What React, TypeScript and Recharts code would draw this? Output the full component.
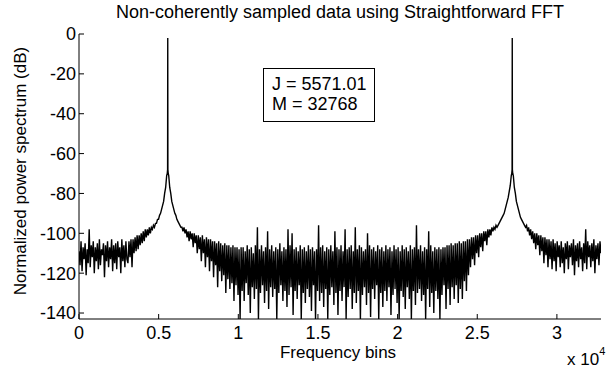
import { Line, LineChart, XAxis, YAxis } from 'recharts';

// spectrum, one value every STEP bins
const STEP = 64;

// bins 0 .. 5504
const leftStart = 0;
const leftDb = [
  -109, -116, -104, -119, -107, -113, -105, -121, -108, -115, -98, -117, -106, -112, -104, -120,
  -107, -114, -105, -118, -103, -116, -108, -111, -105, -122, -106, -114, -104, -117, -107, -113,
  -103, -119, -106, -115, -105, -118, -104, -112, -107, -120, -103, -114, -106, -117, -104, -113,
  -115, -104, -112, -103, -117, -103, -110, -102, -109, -101, -108, -101, -106, -100, -105, -99,
  -104, -98, -102, -98, -101, -97, -100, -97, -98, -96, -97, -95, -95, -93, -93, -91,
  -90, -88, -86, -84, -80, -77, -71,
];

// close-in bins around the first tone
const peakLeftBins = [5540, 5562, 5571, 5580, 5602];
const peakLeftDb = [-70, -68, -2, -68, -70];

// bins 5632 .. 27136
const midStart = 5632;
const midDb = [
  -71, -77, -80, -84, -86, -88, -90, -91, -93, -94, -95, -96, -97, -97, -99, -97,
  -100, -98, -102, -99, -104, -99, -103, -100, -107, -100, -105, -101, -110, -101, -108, -102,
  -114, -101, -110, -103, -117, -102, -112, -103, -119, -103, -114, -104, -122, -104, -116, -105,
  -127, -104, -119, -105, -124, -106, -121, -105, -130, -106, -123, -106, -128, -107, -125, -106,
  -134, -107, -126, -107, -131, -108, -143, -107,
  -129, -107, -134, -109, -125, -106, -131, -108, -140, -107, -127, -110, -133, -106, -128, -97,
  -143, -108, -130, -106, -126, -109, -135, -107, -129, -99, -138, -108, -127, -106, -132, -109,
  -128, -107, -143, -108, -130, -105, -126, -109, -134, -107, -129, -108, -137, -98, -131, -106,
  -127, -100, -141, -108, -129, -107, -133, -109, -126, -106, -143, -108, -130, -107, -135, -109,
  -128, -106, -132, -108, -139, -107, -126, -109, -143, -108, -129, -96, -134, -107, -130, -106,
  -137, -109, -128, -107, -143, -108, -131, -106, -127, -109, -136, -99, -130, -107, -141, -108,
  -129, -106, -134, -109, -127, -98, -143, -108, -132, -107, -128, -106, -138, -109, -130, -97,
  -135, -108, -129, -106, -143, -107, -131, -109, -127, -108, -136, -100, -130, -106, -142, -108,
  -128, -107, -133, -109, -126, -106, -143, -108, -130, -107, -137, -109, -129, -106, -134, -108,
  -127, -107, -141, -109, -131, -106, -128, -108, -135, -107, -143, -109, -129, -106, -132, -108,
  -138, -107, -127, -109, -133, -106, -143, -108, -129, -107, -136, -96, -130, -108, -128, -106,
  -134, -109, -131, -107, -143, -108, -128, -99, -137, -106, -130, -109, -140, -107, -129, -108,
  -133,
  -107, -143, -108, -131, -107, -126, -107, -138, -106, -128, -106, -136, -105, -127, -106, -133,
  -105, -126, -105, -135, -104, -128, -105, -133, -104, -124, -104, -129, -103, -121, -103, -117,
  -102, -113, -102, -116, -101, -110, -101, -112, -100, -107, -100, -109, -99, -104, -99, -106,
  -98, -102, -98, -101, -97, -99, -97, -98, -96, -97, -96, -95, -94, -93, -92, -91,
  -90, -88, -86, -84, -82, -79, -76, -71,
];

// close-in bins around the image tone
const peakRightBins = [27166, 27188, 27197, 27206, 27228];
const peakRightDb = [-70, -68, -2, -68, -70];

// bins 27264 .. 32768
const rightStart = 27264;
const rightDb = [
  -71, -77, -80, -84, -86, -88, -90, -92, -93, -94, -95, -96, -97, -96, -99, -97,
  -101, -98, -103, -99, -105, -100, -108, -100, -106, -101, -111, -101, -109, -102, -115, -102,
  -111, -103, -117, -103, -113, -104, -118, -103,
  -114, -105, -119, -104, -112, -106, -117, -104, -115, -107, -120, -105, -113, -104, -118, -106,
  -112, -105, -116, -103, -121, -106, -114, -105, -117, -104, -113, -107, -119, -105, -115, -98,
  -118, -104, -112, -106, -117, -105, -114, -103, -120, -106, -113, -105, -116, -104, -110,
];

const xTicks = [0, 5000, 10000, 15000, 20000, 25000, 30000];
const yTicks = [0, -20, -40, -60, -80, -100, -120, -140];

const data = [
  ...leftDb.map((db, i) => ({ bin: leftStart + i * STEP, db })),
  ...peakLeftBins.map((bin, i) => ({ bin, db: peakLeftDb[i] })),
  ...midDb.map((db, i) => ({ bin: midStart + i * STEP, db })),
  ...peakRightBins.map((bin, i) => ({ bin, db: peakRightDb[i] })),
  ...rightDb.map((db, i) => ({ bin: rightStart + i * STEP, db })),
].sort((a, b) => a.bin - b.bin);

const font = '"Liberation Sans", Arial, sans-serif';
const tickStyle = { fontSize: 18, fill: '#000', fontFamily: font };

export default function App() {
  return (
    <div style={{ position: 'absolute', left: 0, top: 0, width: 608, height: 372, background: '#fff', fontFamily: font }}>
      <LineChart width={608} height={372} data={data} margin={{ top: 34, right: 7, bottom: 23, left: 0 }}>
        <XAxis
          xAxisId="b"
          dataKey="bin"
          type="number"
          domain={[0, 32768]}
          allowDataOverflow
          ticks={xTicks}
          tickFormatter={(v) => String(v / 10000)}
          tickSize={-5}
          tickMargin={12}
          height={30}
          stroke="#000"
          tick={tickStyle}
        />
        <XAxis
          xAxisId="t"
          orientation="top"
          type="number"
          domain={[0, 32768]}
          allowDataOverflow
          ticks={xTicks}
          tickSize={-5}
          height={0}
          stroke="#000"
          tick={false}
        />
        <YAxis
          yAxisId="l"
          type="number"
          domain={[-143, 0]}
          allowDataOverflow
          ticks={yTicks}
          tickSize={-5}
          tickMargin={8}
          width={79}
          stroke="#000"
          tick={tickStyle}
        />
        <YAxis
          yAxisId="r"
          orientation="right"
          type="number"
          domain={[-143, 0]}
          allowDataOverflow
          ticks={yTicks}
          tickSize={-5}
          width={0}
          stroke="#000"
          tick={false}
        />
        <Line
          xAxisId="b"
          yAxisId="l"
          type="linear"
          dataKey="db"
          stroke="#000"
          strokeWidth={1.4}
          dot={false}
          isAnimationActive={false}
        />
      </LineChart>

      <div style={{ position: 'absolute', left: 0, width: 680, top: 2, textAlign: 'center', fontSize: 18 }}>
        Non-coherently sampled data using Straightforward FFT
      </div>
      <div
        style={{
          position: 'absolute',
          left: 21,
          top: 171,
          transform: 'translate(-50%, -50%) rotate(-90deg)',
          whiteSpace: 'nowrap',
          fontSize: 17,
        }}
      >
        Normalized power spectrum (dB)
      </div>
      <div
        style={{
          position: 'absolute',
          left: 0,
          width: 676,
          top: 344,
          textAlign: 'center',
          fontSize: 17,
          lineHeight: 1,
        }}
      >
        Frequency bins
      </div>
      <div style={{ position: 'absolute', left: 567, top: 351, fontSize: 17, lineHeight: 1, whiteSpace: 'nowrap' }}>
        x 10<sup style={{ fontSize: 11, verticalAlign: 'top', position: 'relative', top: -5 }}>4</sup>
      </div>
      <div
        style={{
          position: 'absolute',
          left: 263,
          top: 68,
          width: 112,
          height: 54,
          boxSizing: 'border-box',
          border: '1px solid #000',
          padding: '5px 0 0 8px',
          fontSize: 18,
          lineHeight: '20px',
        }}
      >
        J = 5571.01
        <br />
        M = 32768
      </div>
    </div>
  );
}
